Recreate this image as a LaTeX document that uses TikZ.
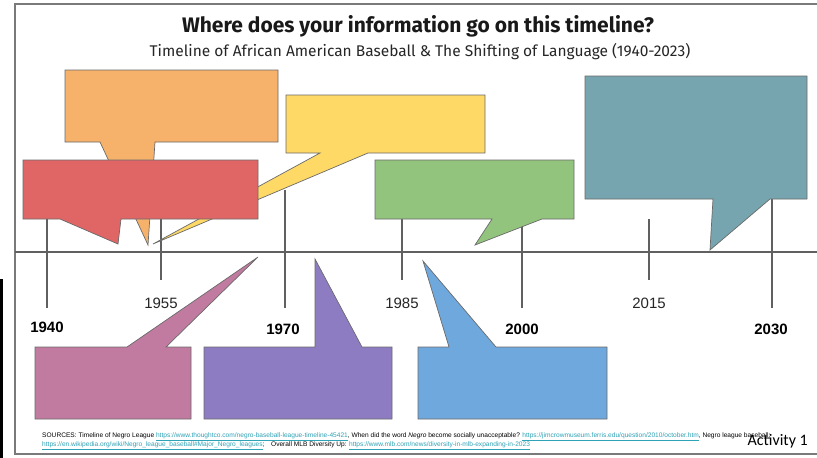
\documentclass[tikz,border=0pt]{standalone}
\usepackage{fontspec}
\setmainfont{Liberation Sans}
\newfontfamily\titlefont{Fira Sans}
\newfontfamily\actfont{Carlito}
\definecolor{cOrange}{HTML}{F6B26B}
\definecolor{cRed}{HTML}{E06666}
\definecolor{cYellow}{HTML}{FFD966}
\definecolor{cGreen}{HTML}{93C47D}
\definecolor{cTeal}{HTML}{76A5AF}
\definecolor{cPink}{HTML}{C27BA0}
\definecolor{cPurple}{HTML}{8E7CC3}
\definecolor{cBlue}{HTML}{6FA8DC}
\definecolor{edgec}{HTML}{6A6A6A}
\definecolor{axisc}{HTML}{606060}
\definecolor{framec}{HTML}{7A7A7A}
\definecolor{linkc}{HTML}{2EA2B6}
\newcommand{\lnk}[1]{\textcolor{linkc}{\underline{#1}}}
\tikzset{
  bubble/.style={draw=edgec, line width=0.7pt, line join=miter},
  axisline/.style={draw=axisc, line width=2.2pt},
  majortick/.style={draw=axisc, line width=2.2pt},
  minortick/.style={draw=axisc, line width=1.6pt},
  minorlab/.style={font=\fontsize{15}{18}\selectfont, text=black!85},
  majorlab/.style={font=\bfseries\fontsize{15}{18}\selectfont, text=black},
}
\begin{document}
\begin{tikzpicture}[x=1pt,y=-1pt]
\useasboundingbox (0,0) rectangle (817,458);
\fill[white] (0,0) rectangle (817,458);
% frame
\draw[framec, line width=2pt] (818,4) -- (15,4) -- (15,454) -- (818,454);
\fill[black] (0,279) rectangle (2.5,458);
% axis and ticks
\coordinate (axL) at (15,252);
\coordinate (axR) at (817,252);
\draw[axisline] (axL) -- (axR);
\foreach \x/\n in {47/a,285/b,522/c,772/d}{
  \coordinate (mt\n) at (\x,190);
  \coordinate (mb\n) at (\x,308);
  \draw[majortick] (mt\n) -- (mb\n);
}
\foreach \x/\n in {161/a,402/b,649/c}{
  \coordinate (nt\n) at (\x,219);
  \coordinate (nb\n) at (\x,280);
  \draw[minortick] (nt\n) -- (nb\n);
}
% labels
\node[minorlab] (y1955) at (161,303) {1955};
\node[minorlab] (y1985) at (402,303) {1985};
\node[minorlab] (y2015) at (649,303) {2015};
\node[majorlab] (y1940) at (47,327) {1940};
\node[majorlab] (y1970) at (283,329) {1970};
\node[majorlab] (y2000) at (522,329) {2000};
\node[majorlab] (y2030) at (771,329) {2030};
% upper bubbles
\filldraw[bubble, fill=cOrange] (65,70) -- (278,70) -- (278,142) -- (155,142) -- (148,245) -- (100,142) -- (65,142) -- cycle;
\filldraw[bubble, fill=cYellow] (286,95) -- (485,95) -- (485,153) -- (368,153) -- (153,244) -- (320,153) -- (286,153) -- cycle;
\filldraw[bubble, fill=cRed] (23,160) -- (258,160) -- (258,219) -- (121,219) -- (118,244) -- (60,219) -- (23,219) -- cycle;
\filldraw[bubble, fill=cGreen] (375,160) -- (574,160) -- (574,219) -- (542,219) -- (475,245) -- (492,219) -- (375,219) -- cycle;
\filldraw[bubble, fill=cTeal] (585,76) -- (807,76) -- (807,199) -- (770,199) -- (710,250) -- (713,199) -- (585,199) -- cycle;
% lower bubbles
\filldraw[bubble, fill=cPink] (35,347) -- (127,347) -- (258,257) -- (166,347) -- (191,347) -- (191,419) -- (35,419) -- cycle;
\filldraw[bubble, fill=cPurple] (204,347) -- (315,347) -- (315,259) -- (362,347) -- (392,347) -- (392,419) -- (204,419) -- cycle;
\filldraw[bubble, fill=cBlue] (418,347) -- (449,347) -- (423,261) -- (496,347) -- (607,347) -- (607,419) -- (418,419) -- cycle;
% titles
\node[font=\titlefont\bfseries\fontsize{21}{25}\selectfont, text=black!90] (title) at (418,26) {Where does your information go on this timeline?};
\node[font=\titlefont\fontsize{15.5}{19}\selectfont, text=black!85] (subtitle) at (420,52) {Timeline of African American Baseball \& The Shifting of Language (1940-2023)};
% sources
\node[anchor=base west, inner sep=0pt, font=\fontsize{6.6}{8}\selectfont] (src1) at (42,437) {SOURCES: Timeline of Negro League \lnk{https://www.thoughtco.com/negro-baseball-league-timeline-45421}, When did the word \textit{Negro} become socially unacceptable? \lnk{https://jimcrowmuseum.ferris.edu/question/2010/october.htm}, Negro league baseball:};
\node[anchor=base west, inner sep=0pt, font=\fontsize{6.6}{8}\selectfont] (src2) at (42,446) {\lnk{https://en.wikipedia.org/wiki/Negro\_league\_baseball\#Major\_Negro\_leagues};\quad Overall MLB Diversity Up: \lnk{https://www.mlb.com/news/diversity-in-mlb-expanding-in-2023}};
\node[anchor=base east, inner sep=0pt, font=\actfont\fontsize{16}{19}\selectfont] (act) at (808,445) {Activity 1};
\end{tikzpicture}
\end{document}
